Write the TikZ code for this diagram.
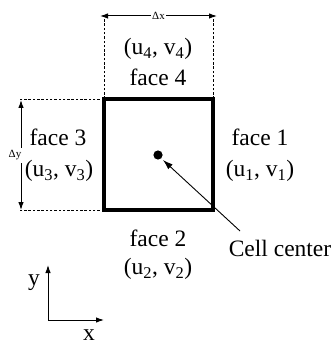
\documentclass[tikz,border=0pt]{standalone}
\usepackage{fontspec}
\setmainfont{Liberation Serif}
\usetikzlibrary{arrows.meta}
\begin{document}
\begin{tikzpicture}[x=1pt,y=-1pt,
  lbl/.style={font=\fontsize{23.5}{26}\selectfont, inner sep=0pt},
  small/.style={font=\fontsize{11}{13}\selectfont, inner sep=1pt, fill=white},
  dim/.style={line width=1pt, {Latex[length=8pt,width=5.5pt]}-{Latex[length=8pt,width=5.5pt]}},
  guide/.style={line width=0.6pt, dash pattern=on 2.5pt off 1.8pt},
  ax/.style={line width=1pt, -{Latex[length=8pt,width=5.5pt]}}]
\useasboundingbox (0,0) rectangle (334,347);
% cell
\draw[line width=3.2pt] (104,99) rectangle (213,210);
% guides
\coordinate (tl) at (104,99); \coordinate (tr) at (213,99);
\coordinate (bl) at (104,210);
\coordinate (gtl) at (104,15); \coordinate (gtr) at (213,15);
\coordinate (gl1) at (20,99); \coordinate (gl2) at (20,210);
\draw[guide] (tl) -- (gtl) (tr) -- (gtr);
\draw[guide] (tl) -- (gl1) (bl) -- (gl2);
% dimensions
\coordinate (dxa) at (100,16); \coordinate (dxb) at (217,16);
\draw[dim] (dxa) -- (dxb) node[midway, small] (dx) {Δx};
\coordinate (dya) at (21,100); \coordinate (dyb) at (21,210);
\draw[dim] (dya) -- (dyb);
\fill[white] (15,148) rectangle (27,163);
\node[small, fill=none] (dy) at (15,155) {Δy};
% labels
\node[lbl] (uv4) at (158,49) {(u\textsubscript{4}, v\textsubscript{4})};
\node[lbl] (f4) at (158,77) {face 4};
\node[lbl] (f3) at (58,137) {face 3};
\node[lbl] (uv3) at (59,171) {(u\textsubscript{3}, v\textsubscript{3})};
\node[lbl] (f1) at (260,137) {face 1};
\node[lbl] (uv1) at (260,171) {(u\textsubscript{1}, v\textsubscript{1})};
\node[lbl] (f2) at (158,238) {face 2};
\node[lbl] (uv2) at (158,269) {(u\textsubscript{2}, v\textsubscript{2})};
\node[lbl] (cc) at (280,248) {Cell center};
% center dot & arrow
\fill (158,155) circle (4.6pt);
\coordinate (cdot) at (163,160);
\coordinate (cstart) at (240,231);
\draw[line width=0.9pt, -{Latex[length=10pt,width=6.5pt]}] (cstart) -- (cdot);
% axes
\coordinate (o) at (48,320);
\coordinate (yend) at (48,265);
\coordinate (xend) at (104,320);
\draw[ax] (o) -- (yend);
\draw[ax] (o) -- (xend);
\node[lbl] (ylab) at (34,283) {y};
\node[lbl] (xlab) at (89,335) {x};
\end{tikzpicture}
\end{document}
